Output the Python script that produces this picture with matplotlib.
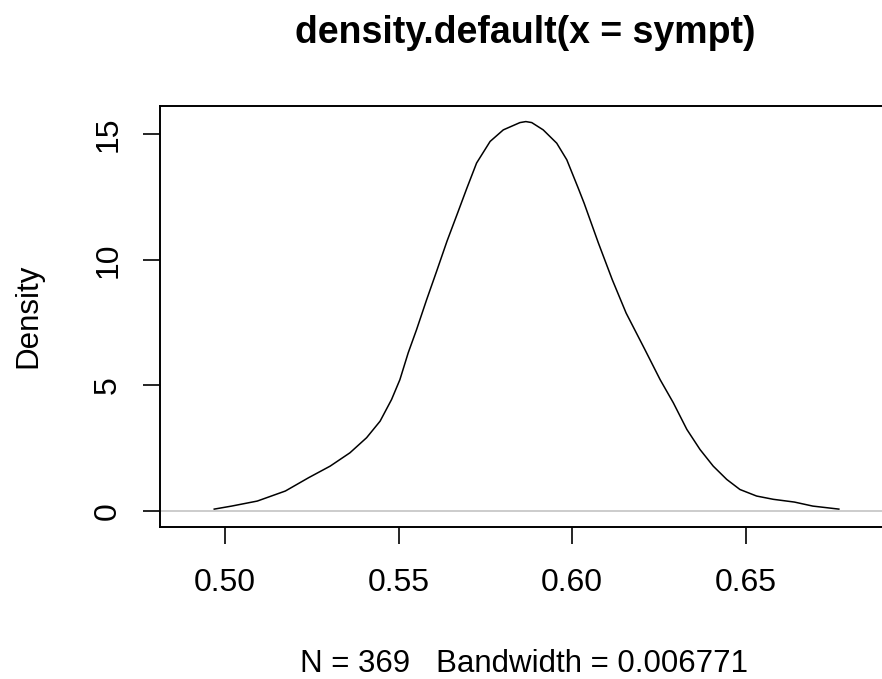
import matplotlib
matplotlib.use("Agg")
import matplotlib.pyplot as plt

plt.rcParams['font.family'] = ['Liberation Sans', 'DejaVu Sans']

# density estimate of sympt
dens_x = [0.4969, 0.5019, 0.5093, 0.5174, 0.5241, 0.5303, 0.5360, 0.5408,
          0.5447, 0.5480, 0.5504, 0.5528, 0.5552, 0.5581, 0.5610, 0.5640,
          0.5670, 0.5697, 0.5725, 0.5764, 0.5802, 0.5850, 0.5867, 0.5884,
          0.5917, 0.5956, 0.5985, 0.6018, 0.6035, 0.6076, 0.6116, 0.6156,
          0.6210, 0.6254, 0.6292, 0.6331, 0.6369, 0.6407, 0.6446, 0.6484,
          0.6532, 0.6580, 0.6641, 0.6694, 0.6769]
dens_y = [0.08, 0.20, 0.40, 0.80, 1.33, 1.79, 2.32, 2.92,
          3.58, 4.44, 5.23, 6.30, 7.22, 8.41, 9.55, 10.75,
          11.85, 12.85, 13.85, 14.71, 15.17, 15.46, 15.50, 15.46,
          15.17, 14.64, 13.98, 12.85, 12.25, 10.67, 9.21, 7.88,
          6.43, 5.23, 4.31, 3.25, 2.45, 1.79, 1.26, 0.86,
          0.60, 0.47, 0.36, 0.20, 0.08]

x_ticks = [0.50, 0.55, 0.60, 0.65]
x_ticklabels = ["0.50", "0.55", "0.60", "0.65"]
y_ticks = [0, 5, 10, 15]
y_ticklabels = ["0", "5", "10", "15"]

title = "density.default(x = sympt)"
subtitle = "N = 369   Bandwidth = 0.006771"

W, H = 882, 679
fig = plt.figure(figsize=(W / 100, H / 100), dpi=100)
ax = fig.add_axes([160 / W, (H - 526.7) / H, (890 - 160) / W, (526.7 - 106) / H])

ax.axhline(0, color="#BEBEBE", lw=1.1, zorder=1)
ax.plot(dens_x, dens_y, color="black", lw=1.1, zorder=2)

ax.set_xlim(0.50 - 65 / 3470, 0.50 - 65 / 3470 + 730 / 3470)
ax.set_ylim(-0.62, 16.12)

ax.set_xticks(x_ticks)
ax.set_xticklabels(x_ticklabels)
ax.set_yticks(y_ticks)
ax.set_yticklabels(y_ticklabels, rotation=90, va="center")

for s in ax.spines.values():
    s.set_linewidth(1.4)
ax.spines["right"].set_visible(False)
ax.tick_params(axis="both", direction="out", length=12.5, width=1.2,
               labelsize=23, colors="black")
ax.tick_params(axis="x", pad=17)
ax.tick_params(axis="y", pad=14)

fig.text(525 / W, (H - 43) / H, title, ha="center", va="baseline",
         fontsize=27, fontweight="bold")
fig.text(524 / W, (H - 672) / H, subtitle, ha="center", va="baseline",
         fontsize=22.5)
fig.text(28 / W, (H - 316) / H, "Density", ha="center", va="center",
         rotation=90, fontsize=22.5)

fig.savefig("out.png", dpi=100)
